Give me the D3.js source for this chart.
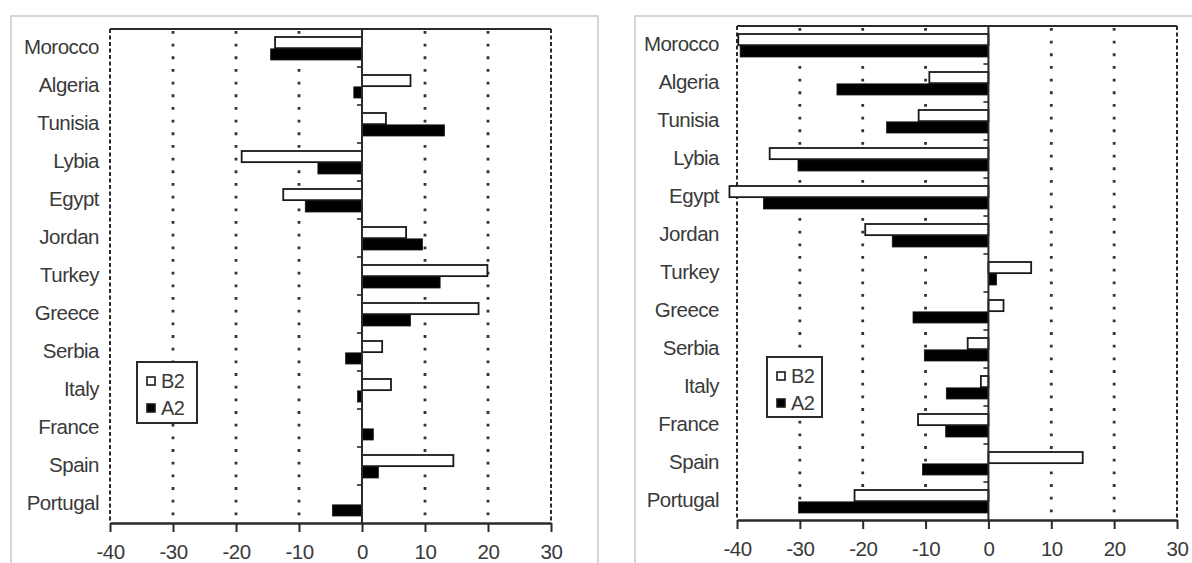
<!DOCTYPE html>
<html>
<head>
<meta charset="utf-8">
<script src="https://cdn.jsdelivr.net/npm/d3@7"></script>
<style>
  html, body { margin: 0; padding: 0; background: #fff; }
  svg { display: block; }
  text { font-family: "Liberation Sans", Arial, Helvetica, sans-serif; fill: #3a3a3a; }
</style>
</head>
<body>
<svg id="chart" width="1192" height="563"></svg>
<script>
// ---- data ----
const categories = ["Morocco","Algeria","Tunisia","Lybia","Egypt","Jordan","Turkey","Greece","Serbia","Italy","France","Spain","Portugal"];
const seriesNames = ["B2","A2"];
const leftB2  = [-13.8, 7.7, 3.8, -19.1, -12.5, 7.0, 19.9, 18.5, 3.2, 4.6, 0.0, 14.5, 0.0];
const leftA2  = [-14.5, -1.3, 13.1, -7.0, -9.0, 9.6, 12.4, 7.7, -2.6, -0.7, 1.8, 2.6, -4.7];
const rightB2 = [-39.8, -9.4, -11.1, -34.8, -41.2, -19.6, 6.8, 2.4, -3.3, -1.2, -11.2, 15.0, -21.3];
const rightA2 = [-39.5, -24.1, -16.2, -30.3, -35.8, -15.3, 1.3, -12.0, -10.2, -6.7, -6.8, -10.5, -30.2];
const xTicks = [-40, -30, -20, -10, 0, 10, 20, 30];
const xDomain = [-40, 30];

const svg = d3.select("#chart");
const ink = "#2a2a2a";

function panel(cfg, b2, a2) {
  const g = svg.append("g");
  // outer gray frame
  g.append("rect").attr("x", cfg.frame[0]).attr("y", cfg.frame[1])
    .attr("width", cfg.frame[2]).attr("height", cfg.frame[3])
    .attr("fill", "none").attr("stroke", "#c9c9c9").attr("stroke-width", 1.5);

  const x = d3.scaleLinear().domain(xDomain).range(cfg.xRange);
  const y = d3.scaleBand().domain(categories).range(cfg.yRange);
  const inner = d3.scaleBand().domain(seriesNames).range([8, 31]).paddingInner(0.06);
  const [y0, y1] = cfg.yRange;

  // dotted gridlines
  g.append("g").selectAll("line").data(xTicks.filter(t => t !== 0 && t !== xDomain[0] && t !== xDomain[1]))
    .join("line")
    .attr("x1", d => x(d)).attr("x2", d => x(d))
    .attr("y1", y0 + 2).attr("y2", y1)
    .attr("stroke", "#333").attr("stroke-width", 2.8)
    .attr("stroke-dasharray", "2.8,9.87");

  // plot frame: top solid, left/right dashed
  g.append("line").attr("x1", x(xDomain[0])).attr("x2", x(xDomain[1]))
    .attr("y1", y0).attr("y2", y0).attr("stroke", ink).attr("stroke-width", 2);
  [xDomain[0], xDomain[1]].forEach(v => {
    g.append("line").attr("x1", x(v)).attr("x2", x(v)).attr("y1", y0).attr("y2", y1)
      .attr("stroke", ink).attr("stroke-width", 2).attr("stroke-dasharray", "4,2.5");
  });

  // bars
  const rows = categories.map((c, i) => ({ c, vals: [b2[i], a2[i]] }));
  const rowG = g.append("g").selectAll("g").data(rows).join("g")
    .attr("transform", d => `translate(0,${y(d.c)})`);
  rowG.selectAll("rect").data(d => d.vals.map((v, k) => ({ v, s: seriesNames[k] })))
    .join("rect")
    .filter(d => d.v !== 0)
    .attr("x", d => Math.min(x(0), x(d.v)))
    .attr("width", d => Math.abs(x(d.v) - x(0)))
    .attr("y", d => inner(d.s))
    .attr("height", inner.bandwidth())
    .attr("fill", d => d.s === "B2" ? "#fff" : "#000")
    .attr("stroke", "#1a1a1a").attr("stroke-width", d => d.s === "B2" ? 1.8 : 0.8);

  // zero line with category ticks
  g.append("line").attr("x1", x(0)).attr("x2", x(0)).attr("y1", y0).attr("y2", y1)
    .attr("stroke", ink).attr("stroke-width", 2);
  g.append("g").selectAll("line").data(categories.slice(1)).join("line")
    .attr("x1", x(0) - 5).attr("x2", x(0))
    .attr("y1", d => y(d)).attr("y2", d => y(d))
    .attr("stroke", ink).attr("stroke-width", 1.6);

  // category labels
  const yAxis = d3.axisLeft(y).tickSize(0).tickPadding(cfg.labelPad);
  const ya = g.append("g").attr("transform", `translate(${x(xDomain[0])},0)`).call(yAxis);
  ya.select(".domain").remove();
  ya.selectAll("text").attr("font-size", 20.5).attr("letter-spacing", "-0.5px")
    .attr("fill", "#3a3a3a").attr("dy", "0.3em");

  // x axis
  const xAxis = d3.axisBottom(x).tickValues(xTicks).tickSize(9).tickSizeOuter(0).tickPadding(12)
    .tickFormat(d3.format("d"));
  const xa = g.append("g").attr("transform", `translate(0,${y1})`).call(xAxis);
  xa.select(".domain").attr("stroke", ink).attr("stroke-width", 2.4);
  xa.selectAll(".tick line").attr("stroke", ink).attr("stroke-width", 2);
  xa.selectAll("text").attr("font-size", 20.5).attr("letter-spacing", "-0.5px")
    .attr("fill", "#3a3a3a").text(d => String(d).replace("\u2212", "-"));

  // legend
  const L = cfg.legend;
  const lg = g.append("g").attr("transform", `translate(${L[0]},${L[1]})`);
  lg.append("rect").attr("width", L[2]).attr("height", L[3])
    .attr("fill", "#fff").attr("stroke", ink).attr("stroke-width", 2);
  seriesNames.forEach((s, k) => {
    const cy = 19 + k * 27;
    lg.append("rect").attr("x", 10).attr("y", cy - 4).attr("width", 8).attr("height", 8)
      .attr("fill", s === "B2" ? "#fff" : "#000").attr("stroke", "#1a1a1a").attr("stroke-width", 1.6);
    lg.append("text").attr("x", 24).attr("y", cy).attr("dy", "0.36em")
      .attr("font-size", 20).attr("letter-spacing", "-0.5px").text(s);
  });
}

panel({ frame: [11, 16, 587, 570], xRange: [110, 551], yRange: [29, 523], labelPad: 11,
        legend: [137, 362, 60, 61] }, leftB2, leftA2);
panel({ frame: [635, 16, 600, 570], xRange: [737, 1177], yRange: [26, 520], labelPad: 18,
        legend: [767, 357, 55, 60] }, rightB2, rightA2);
</script>
</body>
</html>
